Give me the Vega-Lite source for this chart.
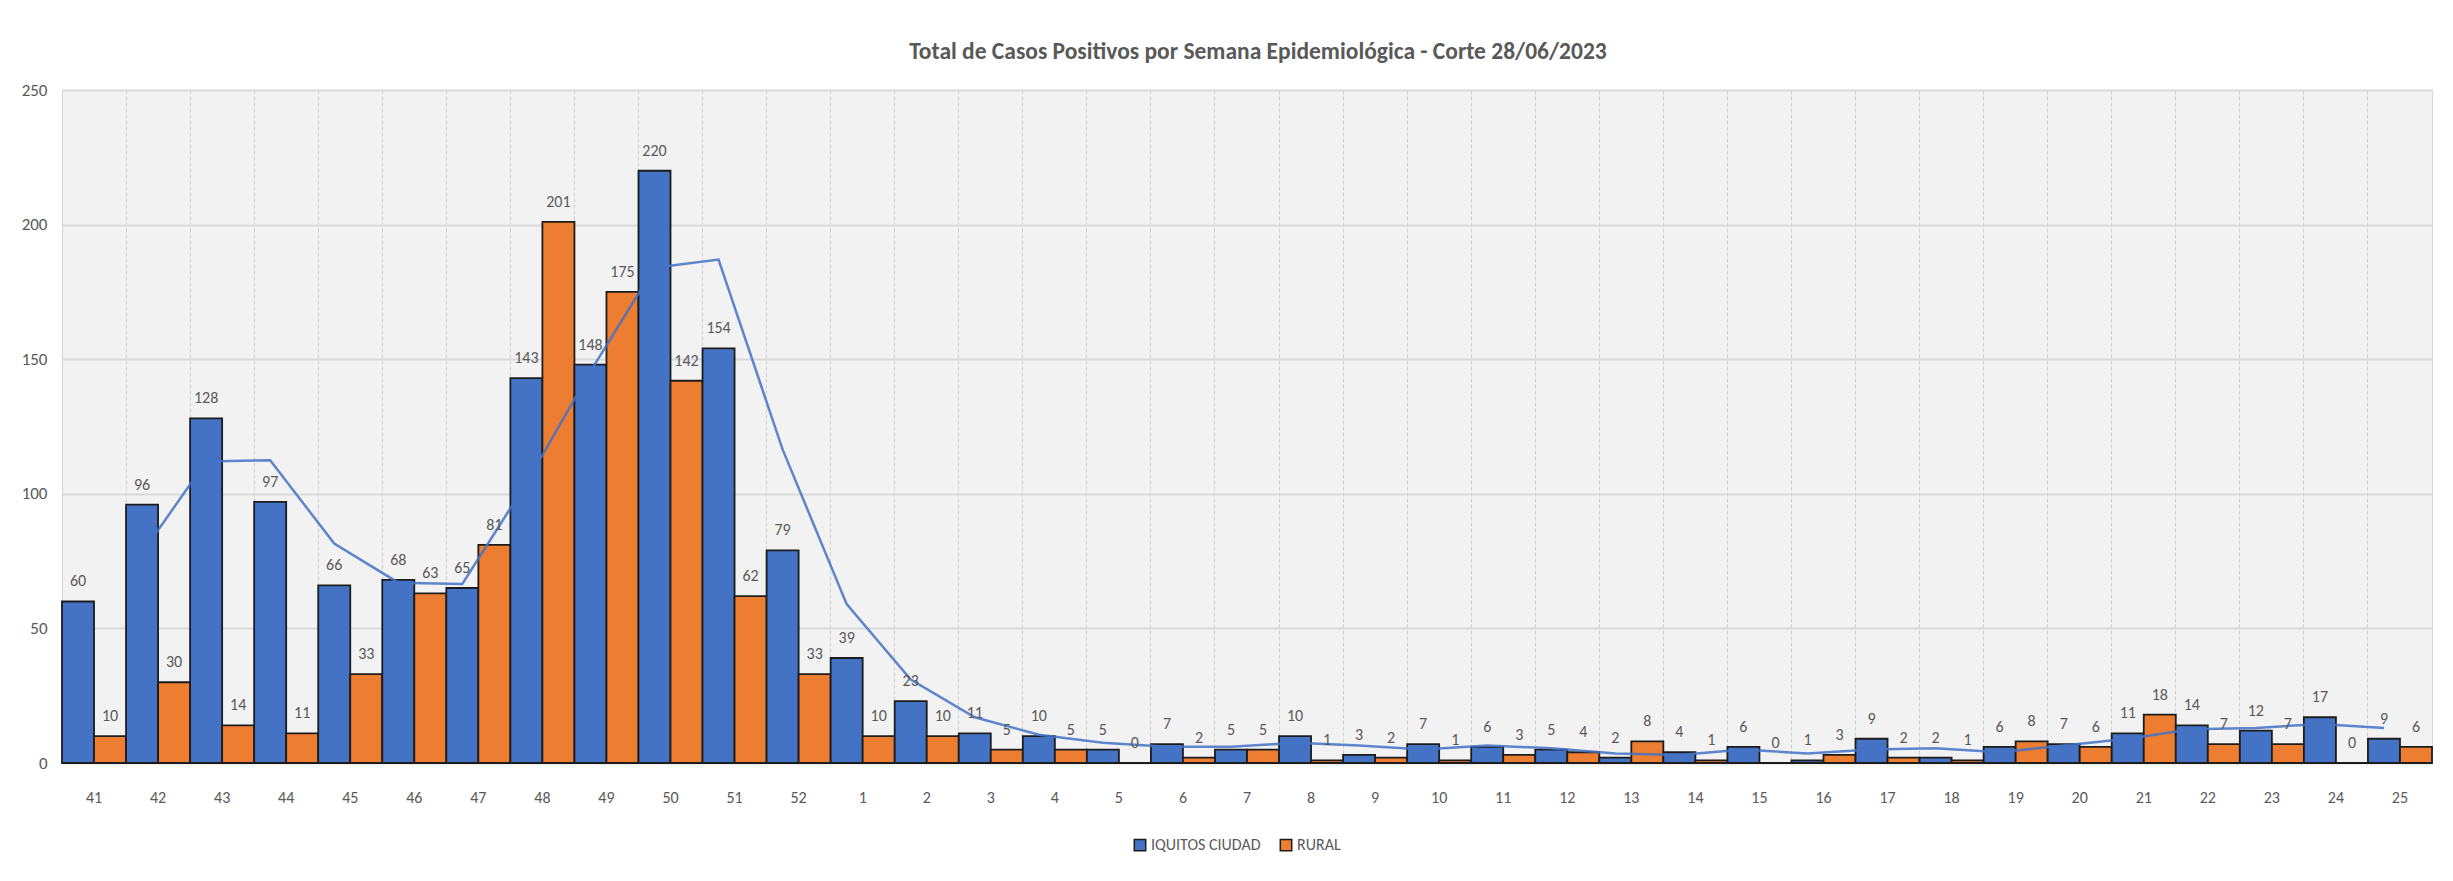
{
  "$schema": "https://vega.github.io/schema/vega-lite/v6.json",
  "width": 2370,
  "height": 673,
  "autosize": {"type": "none"},
  "padding": {"left": 62, "top": 90, "right": 21, "bottom": 118},
  "background": "white",
  "config": {
    "font": "Carlito, Lato, sans-serif",
    "view": {"fill": "#f2f2f2", "stroke": "#d9d9d9", "strokeWidth": 1}
  },
  "title": {
    "text": "Total de Casos Positivos por Semana Epidemiológica - Corte 28/06/2023",
    "font": "Carlito, Lato, sans-serif",
    "fontSize": 23.5,
    "fontWeight": "bold",
    "color": "#595959",
    "anchor": "middle",
    "baseline": "bottom",
    "offset": 18,
    "dy": 24,
    "dx": 11
  },
  "datasets": {
    "bars": [
      {"week": "41", "serie": "IQUITOS CIUDAD", "casos": 60}, {"week": "41", "serie": "RURAL", "casos": 10},
      {"week": "42", "serie": "IQUITOS CIUDAD", "casos": 96}, {"week": "42", "serie": "RURAL", "casos": 30},
      {"week": "43", "serie": "IQUITOS CIUDAD", "casos": 128}, {"week": "43", "serie": "RURAL", "casos": 14},
      {"week": "44", "serie": "IQUITOS CIUDAD", "casos": 97}, {"week": "44", "serie": "RURAL", "casos": 11},
      {"week": "45", "serie": "IQUITOS CIUDAD", "casos": 66}, {"week": "45", "serie": "RURAL", "casos": 33},
      {"week": "46", "serie": "IQUITOS CIUDAD", "casos": 68}, {"week": "46", "serie": "RURAL", "casos": 63},
      {"week": "47", "serie": "IQUITOS CIUDAD", "casos": 65}, {"week": "47", "serie": "RURAL", "casos": 81},
      {"week": "48", "serie": "IQUITOS CIUDAD", "casos": 143}, {"week": "48", "serie": "RURAL", "casos": 201},
      {"week": "49", "serie": "IQUITOS CIUDAD", "casos": 148}, {"week": "49", "serie": "RURAL", "casos": 175},
      {"week": "50", "serie": "IQUITOS CIUDAD", "casos": 220}, {"week": "50", "serie": "RURAL", "casos": 142},
      {"week": "51", "serie": "IQUITOS CIUDAD", "casos": 154}, {"week": "51", "serie": "RURAL", "casos": 62},
      {"week": "52", "serie": "IQUITOS CIUDAD", "casos": 79}, {"week": "52", "serie": "RURAL", "casos": 33},
      {"week": "1", "serie": "IQUITOS CIUDAD", "casos": 39}, {"week": "1", "serie": "RURAL", "casos": 10},
      {"week": "2", "serie": "IQUITOS CIUDAD", "casos": 23}, {"week": "2", "serie": "RURAL", "casos": 10},
      {"week": "3", "serie": "IQUITOS CIUDAD", "casos": 11}, {"week": "3", "serie": "RURAL", "casos": 5},
      {"week": "4", "serie": "IQUITOS CIUDAD", "casos": 10}, {"week": "4", "serie": "RURAL", "casos": 5},
      {"week": "5", "serie": "IQUITOS CIUDAD", "casos": 5}, {"week": "5", "serie": "RURAL", "casos": 0},
      {"week": "6", "serie": "IQUITOS CIUDAD", "casos": 7}, {"week": "6", "serie": "RURAL", "casos": 2},
      {"week": "7", "serie": "IQUITOS CIUDAD", "casos": 5}, {"week": "7", "serie": "RURAL", "casos": 5},
      {"week": "8", "serie": "IQUITOS CIUDAD", "casos": 10}, {"week": "8", "serie": "RURAL", "casos": 1},
      {"week": "9", "serie": "IQUITOS CIUDAD", "casos": 3}, {"week": "9", "serie": "RURAL", "casos": 2},
      {"week": "10", "serie": "IQUITOS CIUDAD", "casos": 7}, {"week": "10", "serie": "RURAL", "casos": 1},
      {"week": "11", "serie": "IQUITOS CIUDAD", "casos": 6}, {"week": "11", "serie": "RURAL", "casos": 3},
      {"week": "12", "serie": "IQUITOS CIUDAD", "casos": 5}, {"week": "12", "serie": "RURAL", "casos": 4},
      {"week": "13", "serie": "IQUITOS CIUDAD", "casos": 2}, {"week": "13", "serie": "RURAL", "casos": 8},
      {"week": "14", "serie": "IQUITOS CIUDAD", "casos": 4}, {"week": "14", "serie": "RURAL", "casos": 1},
      {"week": "15", "serie": "IQUITOS CIUDAD", "casos": 6}, {"week": "15", "serie": "RURAL", "casos": 0},
      {"week": "16", "serie": "IQUITOS CIUDAD", "casos": 1}, {"week": "16", "serie": "RURAL", "casos": 3},
      {"week": "17", "serie": "IQUITOS CIUDAD", "casos": 9}, {"week": "17", "serie": "RURAL", "casos": 2},
      {"week": "18", "serie": "IQUITOS CIUDAD", "casos": 2}, {"week": "18", "serie": "RURAL", "casos": 1},
      {"week": "19", "serie": "IQUITOS CIUDAD", "casos": 6}, {"week": "19", "serie": "RURAL", "casos": 8},
      {"week": "20", "serie": "IQUITOS CIUDAD", "casos": 7}, {"week": "20", "serie": "RURAL", "casos": 6},
      {"week": "21", "serie": "IQUITOS CIUDAD", "casos": 11}, {"week": "21", "serie": "RURAL", "casos": 18},
      {"week": "22", "serie": "IQUITOS CIUDAD", "casos": 14}, {"week": "22", "serie": "RURAL", "casos": 7},
      {"week": "23", "serie": "IQUITOS CIUDAD", "casos": 12}, {"week": "23", "serie": "RURAL", "casos": 7},
      {"week": "24", "serie": "IQUITOS CIUDAD", "casos": 17}, {"week": "24", "serie": "RURAL", "casos": 0},
      {"week": "25", "serie": "IQUITOS CIUDAD", "casos": 9}, {"week": "25", "serie": "RURAL", "casos": 6}
    ],
    "tendencia": [
      {"week": "42", "serie": "IQUITOS CIUDAD", "media": 78},
      {"week": "43", "serie": "IQUITOS CIUDAD", "media": 112},
      {"week": "44", "serie": "IQUITOS CIUDAD", "media": 112.5},
      {"week": "45", "serie": "IQUITOS CIUDAD", "media": 81.5},
      {"week": "46", "serie": "IQUITOS CIUDAD", "media": 67},
      {"week": "47", "serie": "IQUITOS CIUDAD", "media": 66.5},
      {"week": "48", "serie": "IQUITOS CIUDAD", "media": 104},
      {"week": "49", "serie": "IQUITOS CIUDAD", "media": 145.5},
      {"week": "50", "serie": "IQUITOS CIUDAD", "media": 184},
      {"week": "51", "serie": "IQUITOS CIUDAD", "media": 187},
      {"week": "52", "serie": "IQUITOS CIUDAD", "media": 116.5},
      {"week": "1", "serie": "IQUITOS CIUDAD", "media": 59},
      {"week": "2", "serie": "IQUITOS CIUDAD", "media": 31},
      {"week": "3", "serie": "IQUITOS CIUDAD", "media": 17},
      {"week": "4", "serie": "IQUITOS CIUDAD", "media": 10.5},
      {"week": "5", "serie": "IQUITOS CIUDAD", "media": 7.5},
      {"week": "6", "serie": "IQUITOS CIUDAD", "media": 6},
      {"week": "7", "serie": "IQUITOS CIUDAD", "media": 6},
      {"week": "8", "serie": "IQUITOS CIUDAD", "media": 7.5},
      {"week": "9", "serie": "IQUITOS CIUDAD", "media": 6.5},
      {"week": "10", "serie": "IQUITOS CIUDAD", "media": 5},
      {"week": "11", "serie": "IQUITOS CIUDAD", "media": 6.5},
      {"week": "12", "serie": "IQUITOS CIUDAD", "media": 5.5},
      {"week": "13", "serie": "IQUITOS CIUDAD", "media": 3.5},
      {"week": "14", "serie": "IQUITOS CIUDAD", "media": 3},
      {"week": "15", "serie": "IQUITOS CIUDAD", "media": 5},
      {"week": "16", "serie": "IQUITOS CIUDAD", "media": 3.5},
      {"week": "17", "serie": "IQUITOS CIUDAD", "media": 5},
      {"week": "18", "serie": "IQUITOS CIUDAD", "media": 5.5},
      {"week": "19", "serie": "IQUITOS CIUDAD", "media": 4},
      {"week": "20", "serie": "IQUITOS CIUDAD", "media": 6.5},
      {"week": "21", "serie": "IQUITOS CIUDAD", "media": 9},
      {"week": "22", "serie": "IQUITOS CIUDAD", "media": 12.5},
      {"week": "23", "serie": "IQUITOS CIUDAD", "media": 13},
      {"week": "24", "serie": "IQUITOS CIUDAD", "media": 14.5},
      {"week": "25", "serie": "IQUITOS CIUDAD", "media": 13}
    ]
  },
  "layer": [
    {
      "data": {"name": "bars"},
      "mark": {"type": "bar", "stroke": "#1c1c1c", "strokeWidth": 1.8},
      "encoding": {
        "x": {
          "field": "week", "type": "nominal",
          "scale": {"domain": ["41","42","43","44","45","46","47","48","49","50","51","52","1","2","3","4","5","6","7","8","9","10","11","12","13","14","15","16","17","18","19","20","21","22","23","24","25"], "paddingInner": 0, "paddingOuter": 0},
          "axis": {"orient": "bottom", "title": null, "labels": false, "ticks": false, "domain": false, "grid": true, "bandPosition": 0, "gridColor": "#cfcfcf", "gridDash": [4, 2], "gridWidth": 1}
        },
        "xOffset": {"field": "serie", "type": "nominal", "scale": {"domain": ["IQUITOS CIUDAD", "RURAL"], "paddingInner": 0, "paddingOuter": 0}},
        "y": {
          "field": "casos", "type": "quantitative",
          "scale": {"domain": [0, 250], "nice": false},
          "axis": {"title": null, "values": [0, 50, 100, 150, 200, 250], "ticks": false, "domain": false, "grid": true, "gridColor": "#d9d9d9", "gridWidth": 2, "labelFontSize": 17, "labelColor": "#595959", "labelPadding": 15}
        },
        "color": {
          "field": "serie", "type": "nominal",
          "scale": {"domain": ["IQUITOS CIUDAD", "RURAL"], "range": ["#4472C4", "#ED7D31"]},
          "legend": {"orient": "none", "legendX": 1070, "legendY": 747, "direction": "horizontal", "title": null, "symbolType": "square", "symbolSize": 130, "symbolStrokeColor": "#1c1c1c", "symbolStrokeWidth": 1.5, "labelFontSize": 16, "labelColor": "#595959", "labelOffset": 3, "columnPadding": 16}
        }
      }
    },
    {
      "data": {"name": "tendencia"},
      "mark": {"type": "line", "color": "#4472C4", "strokeWidth": 2.5, "opacity": 0.85},
      "encoding": {
        "x": {
          "field": "week", "type": "nominal",
          "axis": {"orient": "bottom", "title": null, "labelAngle": 0, "ticks": false, "domain": false, "grid": false, "labelFontSize": 16, "labelColor": "#595959", "labelPadding": 26}
        },
        "xOffset": {"field": "serie", "type": "nominal"},
        "y": {
          "field": "media", "type": "quantitative",
          "axis": {"title": null, "values": [0, 50, 100, 150, 200, 250], "ticks": false, "domain": false, "grid": true, "gridColor": "#d9d9d9", "gridWidth": 2, "labelFontSize": 17, "labelColor": "#595959", "labelPadding": 15}
        }
      }
    },
    {
      "data": {"name": "bars"},
      "mark": {"type": "text", "baseline": "alphabetic", "dy": -15, "fontSize": 16, "color": "#595959"},
      "encoding": {
        "x": {"field": "week", "type": "nominal", "axis": null},
        "xOffset": {"field": "serie", "type": "nominal"},
        "y": {
          "field": "casos", "type": "quantitative",
          "axis": {"title": null, "values": [0, 50, 100, 150, 200, 250], "ticks": false, "domain": false, "grid": true, "gridColor": "#d9d9d9", "gridWidth": 2, "labelFontSize": 17, "labelColor": "#595959", "labelPadding": 15}
        },
        "text": {"field": "casos", "type": "quantitative"}
      }
    }
  ],
  "resolve": {"axis": {"x": "independent"}}
}
